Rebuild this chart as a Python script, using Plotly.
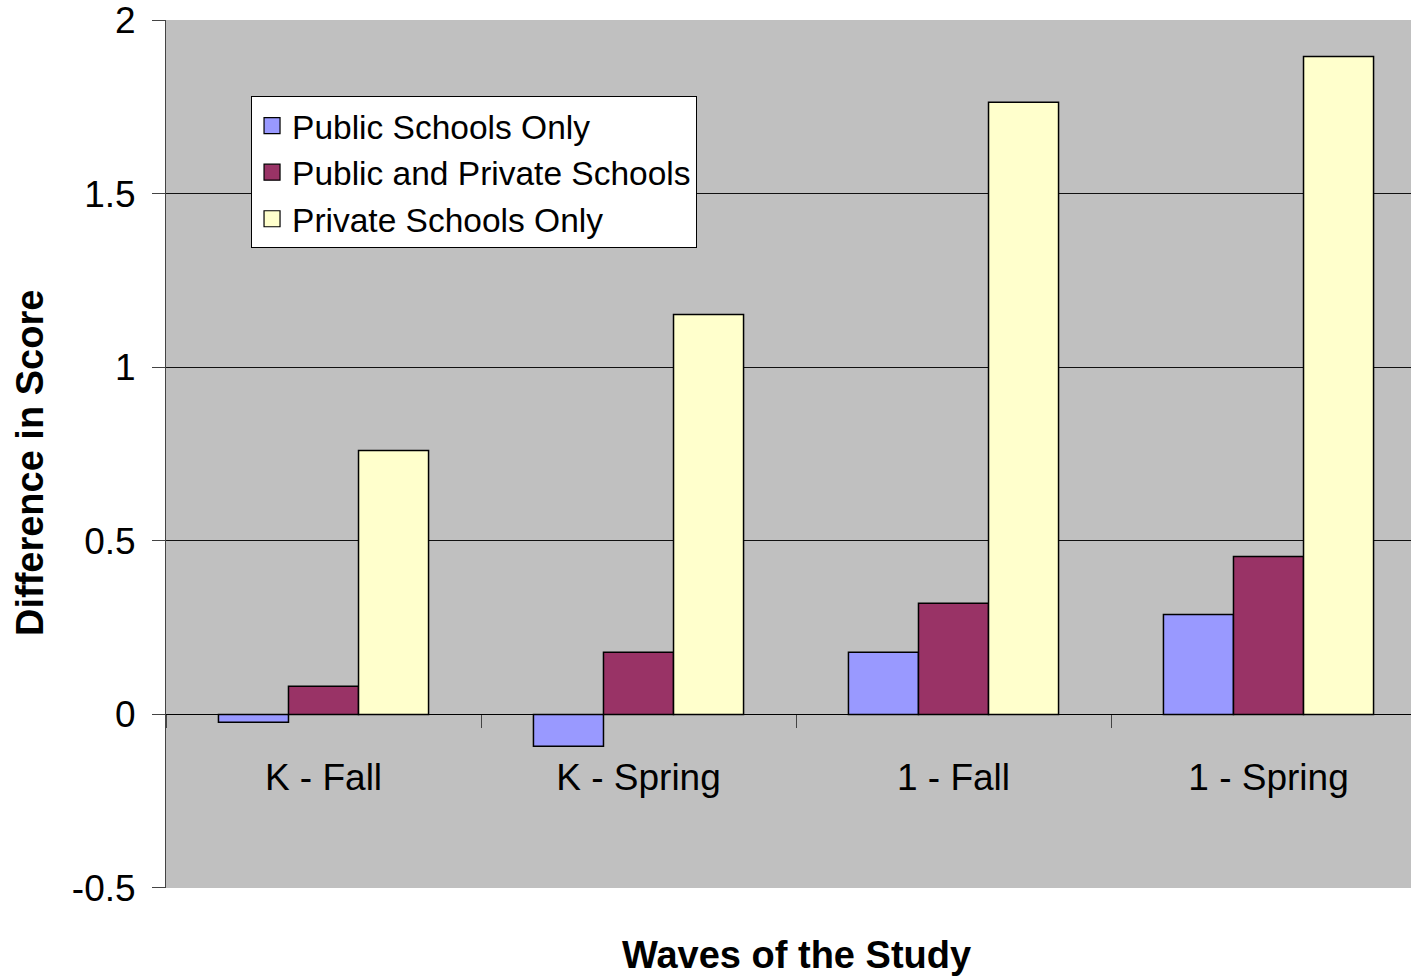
import plotly.graph_objects as go

categories = ["K - Fall", "K - Spring", "1 - Fall", "1 - Spring"]
public_only = [-0.023, -0.092, 0.179, 0.288]
public_private = [0.081, 0.179, 0.32, 0.455]
private_only = [0.76, 1.152, 1.763, 1.895]

series_names = ["Public Schools Only", "Public and Private Schools", "Private Schools Only"]
series_colors = ["#9999FF", "#993366", "#FFFFCC"]
y_ticks = [-0.5, 0, 0.5, 1, 1.5, 2]
y_tick_text = ["-0.5", "0", "0.5", "1", "1.5", "2"]

FONT = "Liberation Sans, Arial, sans-serif"

fig = go.Figure()
for name, vals, col in zip(series_names, [public_only, public_private, private_only], series_colors):
    fig.add_trace(go.Bar(
        x=categories, y=vals, name=name, showlegend=False,
        marker=dict(color=col, line=dict(color="black", width=1.5)),
    ))
# legend entries with larger square swatches
for name, col in zip(series_names, series_colors):
    fig.add_trace(go.Scatter(
        x=[None], y=[None], name=name, mode="markers",
        marker=dict(symbol="square", size=16, color=col, line=dict(color="black", width=1.2)),
    ))

fig.update_layout(
    width=1411, height=976,
    margin=dict(l=166, r=0, t=20, b=88),
    paper_bgcolor="white",
    plot_bgcolor="#C0C0C0",
    barmode="group",
    bargap=0.333,
    bargroupgap=0,
    font=dict(family=FONT, color="black"),
    showlegend=True,
    legend=dict(
        x=0.0683, y=0.912, xanchor="left", yanchor="top",
        bgcolor="white", bordercolor="black", borderwidth=1,
        font=dict(size=33.5, family=FONT),
        itemwidth=30,
    ),
    xaxis=dict(
        type="category",
        range=[-0.5, 3.5 - 15 / 315],
        anchor="free", position=0.2,
        showline=True, linecolor="black", linewidth=1,
        ticks="outside", ticklen=13, tickcolor="#444", tickson="boundaries",
        tickfont=dict(size=37, family=FONT),
        ticklabelstandoff=30,
        showgrid=False, zeroline=False,
    ),
    yaxis=dict(
        range=[-0.5001, 2.0001],
        tickvals=y_ticks, ticktext=y_tick_text,
        showline=True, linecolor="#444", linewidth=1,
        ticks="outside", ticklen=13, tickcolor="#444",
        tickfont=dict(size=37, family=FONT),
        ticklabelstandoff=9,
        ticklabeloverflow="allow",
        showgrid=True, gridcolor="#111", gridwidth=1,
        zeroline=False,
    ),
    annotations=[
        dict(text="<b>Waves of the Study</b>", xref="x", yref="paper",
             x=1.5, y=0, yanchor="top", xanchor="center", yshift=-44,
             showarrow=False, font=dict(size=38, family=FONT)),
        dict(text="<b>Difference in Score</b>", xref="paper", yref="paper",
             x=0, y=0.4896, xanchor="center", yanchor="middle", xshift=-136,
             textangle=-90, showarrow=False, font=dict(size=38, family=FONT)),
    ],
)

fig.write_html("out.html")
